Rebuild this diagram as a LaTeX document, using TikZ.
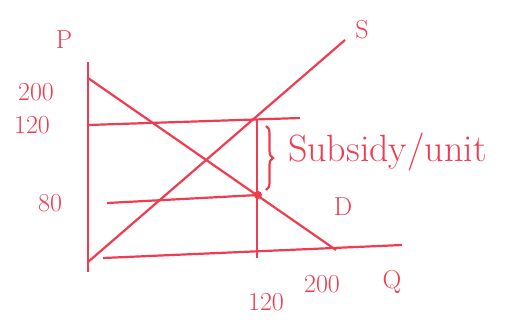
\documentclass[tikz,border=0pt]{standalone}
\usepackage{fontspec}
\usepackage{tikz}
\usetikzlibrary{positioning,calc,decorations.pathreplacing}
\definecolor{pen}{RGB}{240,60,80}

\begin{document}
\begin{tikzpicture}[x=1pt,y=-1pt,line width=2.2pt,pen,
    lbl/.style={font=\fontsize{26}{28}\selectfont,pen,inner sep=1pt}]
    \useasboundingbox (0,0) rectangle (526,322);
    % axes
    \coordinate (ytop) at (88,62);
    \coordinate (ybot) at (88,272);
    \coordinate (xl) at (103,258);
    \coordinate (xr) at (402,245);
    \draw (ytop) -- (ybot);
    \draw (xl) -- (xr);
    \node[lbl] (P) at (64,40) {P};
    \node[lbl] (Q) at (392,282) {Q};
    % demand and supply
    \coordinate (dtop) at (88,78);
    \coordinate (dend) at (336,250);
    \coordinate (sbot) at (88,262);
    \coordinate (stop) at (345,40);
    \draw (dtop) -- (dend);
    \draw (sbot) -- (stop);
    \node[lbl] (S) at (362,30) {S};
    \node[lbl] (D) at (343,207) {D};
    % price 120 and 80 lines, quantity 120
    \coordinate (p120l) at (88,125);
    \coordinate (p120r) at (300,118);
    \coordinate (p80l) at (107,203);
    \coordinate (eq) at (258,195);
    \coordinate (qtop) at (257,120);
    \coordinate (qbot) at (257,258);
    \draw (p120l) -- (p120r);
    \draw (p80l) -- (eq);
    \draw (qtop) -- (qbot);
    \fill (eq) circle (4pt);
    % subsidy brace
    \coordinate (btop) at (266,126);
    \coordinate (bbot) at (266,190);
    \draw[decorate,decoration={brace,amplitude=7pt}] (btop) -- (bbot);
    \node[lbl,font=\fontsize{38}{40}\selectfont,anchor=west] (sub) at (286,152) {Subsidy/unit};
    % axis values
    \node[lbl] (v200p) at (36,92) {200};
    \node[lbl] (v120p) at (32,125) {120};
    \node[lbl] (v80p) at (50,203) {80};
    \node[lbl] (v200q) at (322,284) {200};
    \node[lbl] (v120q) at (266,302) {120};
\end{tikzpicture}
\end{document}
